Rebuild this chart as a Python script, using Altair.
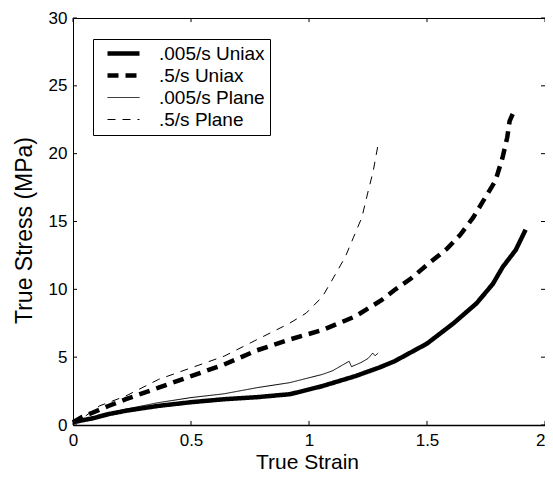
import altair as alt
import pandas as pd

series_names = [".005/s Uniax", ".5/s Uniax", ".005/s Plane", ".5/s Plane"]

uniax_slow_strain = [0, 0.04, 0.085, 0.15, 0.224, 0.3, 0.3625, 0.5, 0.64, 0.779, 0.918, 0.95,
                     1.057, 1.196, 1.3, 1.3625, 1.5, 1.6125, 1.71, 1.779, 1.821, 1.876, 1.918]
uniax_slow_stress = [0.2, 0.35, 0.5, 0.8, 1.05, 1.25, 1.41, 1.68, 1.9, 2.05, 2.27, 2.4,
                     2.87, 3.6, 4.25, 4.7, 6.0, 7.5, 8.97, 10.4, 11.65, 12.9, 14.4]

uniax_fast_strain = [0, 0.04, 0.085, 0.15, 0.224, 0.3625, 0.5, 0.64, 0.779, 0.918, 1.057, 1.196,
                     1.307, 1.3625, 1.432, 1.5, 1.585, 1.64, 1.696, 1.7375, 1.79, 1.82, 1.84,
                     1.85, 1.865, 1.88]
uniax_fast_stress = [0.2, 0.6, 0.92, 1.4, 1.9, 2.75, 3.6, 4.46, 5.5, 6.3, 7.0, 8.0,
                     9.2, 9.95, 10.8, 11.8, 13.0, 14.0, 15.3, 16.5, 18.0, 19.7, 21.2,
                     22.4, 23.0, 23.3]

plane_slow_strain = [0, 0.04, 0.085, 0.15, 0.224, 0.3625, 0.5, 0.64, 0.779, 0.918, 1.057,
                     1.1, 1.17, 1.18, 1.22, 1.25, 1.27, 1.28, 1.293]
plane_slow_stress = [0.1, 0.3, 0.44, 0.8, 1.17, 1.65, 2.02, 2.3, 2.75, 3.12, 3.73,
                     4.0, 4.7, 4.3, 4.6, 4.9, 5.3, 5.1, 5.3]

plane_fast_strain = [0, 0.04, 0.1125, 0.224, 0.3625, 0.5, 0.64, 0.779, 0.918, 0.9875, 1.057,
                     1.105, 1.154, 1.189, 1.224, 1.251, 1.272, 1.293]
plane_fast_stress = [0.1, 0.5, 1.41, 2.14, 3.36, 4.21, 5.07, 6.29, 7.5, 8.24, 9.46,
                     10.9, 12.4, 13.85, 15.3, 17.26, 18.7, 20.7]

x_ticks = [0, 0.5, 1, 1.5, 2]
y_ticks = [0, 5, 10, 15, 20, 25, 30]

rows = []
for name, xs, ys in [
    (series_names[0], uniax_slow_strain, uniax_slow_stress),
    (series_names[1], uniax_fast_strain, uniax_fast_stress),
    (series_names[2], plane_slow_strain, plane_slow_stress),
    (series_names[3], plane_fast_strain, plane_fast_stress),
]:
    for i, (x, y) in enumerate(zip(xs, ys)):
        rows.append({"series": name, "strain": x, "stress": y, "idx": i})
df = pd.DataFrame(rows)

FONT = "Liberation Sans"

x_axis = alt.Axis(values=x_ticks, format="~g", title="True Strain", labelFlush=False,
                  labelOverlap=False, labelPadding=7, domainWidth=1.5, titleX=234, titleY=43,
                  labelAlign={"expr": "datum.value == 2 ? 'right' : 'center'"},
                  titleFontSize=21, titleBaseline="alphabetic", titleAlign="center")
y_axis = alt.Axis(values=y_ticks, format="~g", title="True Stress (MPa)", labelFlush=False,
                  labelOverlap=False, labelPadding=6, titleX=-42, titleY=212,
                  titleBaseline="alphabetic", titleAlign="center")
x_scale = alt.Scale(domain=[0, 2], nice=False)
y_scale = alt.Scale(domain=[0, 30], nice=False)

legend_labels = "datum.label + '      '"

lines = alt.Chart(df).mark_line(color="black").encode(
    x=alt.X("strain:Q", scale=x_scale, axis=x_axis),
    y=alt.Y("stress:Q", scale=y_scale, axis=y_axis),
    strokeDash=alt.StrokeDash(
        "series:N",
        scale=alt.Scale(domain=series_names, range=[[1, 0], [11, 7], [1, 0], [8, 7]]),
        legend=alt.Legend(title=None, labelExpr=legend_labels),
    ),
    strokeWidth=alt.StrokeWidth(
        "series:N",
        scale=alt.Scale(type="ordinal", domain=series_names, range=[4.5, 4.5, 1, 1]),
        legend=alt.Legend(title=None, labelExpr=legend_labels),
    ),
    order="idx:Q",
)

xt_df = pd.DataFrame({
    "strain": x_ticks * 2,
    "stress": [0] * 5 + [30] * 5,
    "stress2": [0.3] * 5 + [29.7] * 5,
})
yt_df = pd.DataFrame({
    "stress": y_ticks * 2,
    "strain": [0] * 7 + [2] * 7,
    "strain2": [0.017] * 7 + [1.983] * 7,
})

xticks = alt.Chart(xt_df).mark_rule(color="black", strokeWidth=1).encode(
    x=alt.X("strain:Q", scale=x_scale, axis=x_axis),
    y=alt.Y("stress:Q", scale=y_scale, axis=y_axis),
    y2="stress2:Q",
)
yticks = alt.Chart(yt_df).mark_rule(color="black", strokeWidth=1).encode(
    x=alt.X("strain:Q", scale=x_scale, axis=x_axis),
    x2="strain2:Q",
    y=alt.Y("stress:Q", scale=y_scale, axis=y_axis),
)

chart = alt.layer(lines, xticks, yticks).properties(
    width=472,
    height=407,
    autosize=alt.AutoSizeParams(type="none"),
    padding={"left": 65, "top": 10, "right": 0, "bottom": 48},
    background="white",
).configure_view(
    stroke="black", strokeWidth=1
).configure_axis(
    grid=False, ticks=False, tickSize=0, domainColor="black",
    labelColor="black", labelFont=FONT, labelFontSize=17,
    titleColor="black", titleFont=FONT, titleFontSize=23, titleFontWeight="normal",
).configure_legend(
    orient="none", legendX=20, legendY=21, direction="vertical",
    fillColor="white", strokeColor="black", padding=5,
    symbolType="stroke", symbolSize=1024, symbolOffset=7, symbolStrokeColor="black",
    labelOffset=17, labelFont=FONT, labelFontSize=19, labelColor="black",
    rowPadding=2, clipHeight=19,
)

chart.save("out.html", embed_options={"renderer": "svg", "actions": False})
